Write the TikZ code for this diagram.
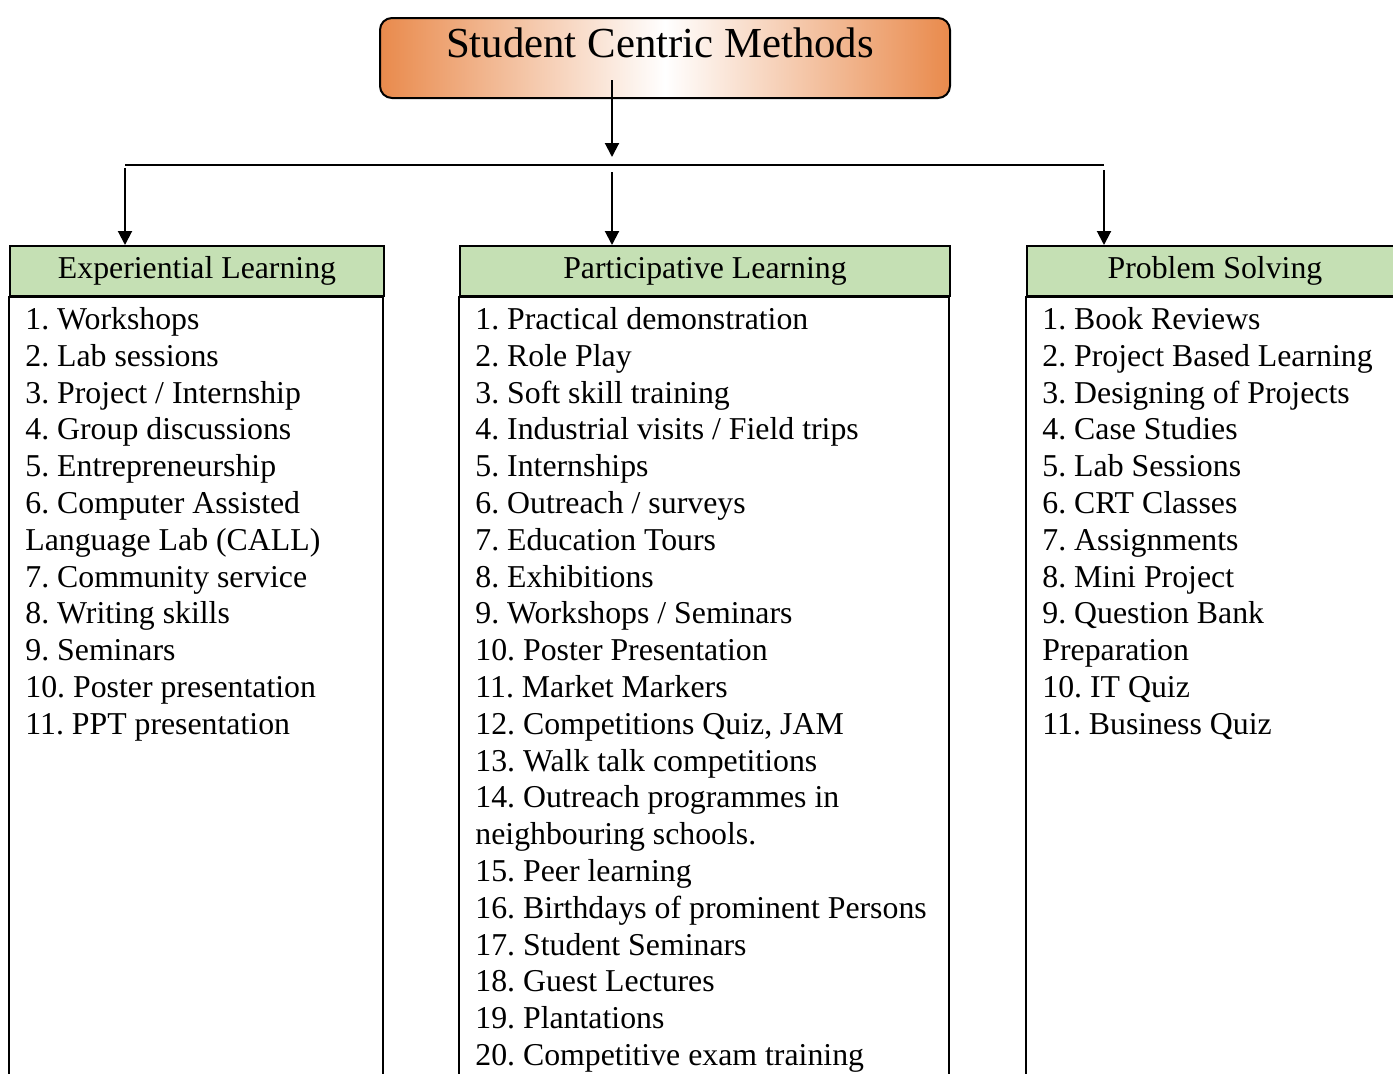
\documentclass[tikz,border=0pt]{standalone}
\usepackage{fontspec}
\setmainfont{Liberation Serif}
\usetikzlibrary{arrows.meta}
\definecolor{scorange}{HTML}{E98A4C}
\definecolor{hdgreen}{HTML}{C5E0B4}
\frenchspacing

\begin{document}
\begin{tikzpicture}[x=0.5pt, y=-0.5pt,
    arr/.style={line width=1pt, -{Triangle[length=7pt, width=7pt]}},
    titlebox/.style={draw, line width=1pt, rounded corners=6pt, inner sep=0pt,
      minimum width=285pt, text height=19.5pt, text depth=20.5pt,
      left color=scorange, right color=scorange, middle color=white,
      font=\fontsize{21.4}{25}\selectfont},
    head/.style={draw, line width=1pt, fill=hdgreen, inner sep=0pt,
      minimum height=25pt, font=\fontsize{15.9}{18}\selectfont},
    items/.style={anchor=north west, align=left, inner sep=0pt,
      font=\fontsize{15.9}{18.4}\selectfont}
  ]
    \useasboundingbox (0,0) rectangle (1393,1073);
    \clip (0,0) rectangle (1393,1073);

    \node[titlebox] (scm) at (665,58) {Student Centric Methods\hspace*{5pt}};

    \node[head, minimum width=187pt] (exp) at (197,271) {Experiential Learning};
    \node[head, minimum width=245pt] (par) at (705,271) {Participative Learning};
    \node[head, minimum width=188pt] (prb) at (1215,271) {Problem Solving};

    \draw[line width=1pt] (exp.south west) rectangle ++(374,820);
    \draw[line width=1pt] (par.south west) rectangle ++(490,820);
    \draw[line width=1pt] (prb.south west) rectangle ++(376,820);

    \coordinate (src) at (612,80);
    \coordinate (hub) at (612,157);
    \coordinate (bl) at (125,165);
    \coordinate (br) at (1104,165);
    \draw[arr] (src) -- (hub);
    \draw[line width=1pt] (bl) -- (br);
    \draw[arr] ([yshift=-1.5pt]bl) -- (bl |- exp.north);
    \draw[arr] ([yshift=-3.5pt]bl -| hub) -- (hub |- par.north);
    \draw[arr] ([yshift=-2.5pt]br) -- (br |- prb.north);

    \node[items] (expl) at (25,307) {1. Workshops\\2. Lab sessions\\3. Project / Internship\\
      4. Group discussions\\5. Entrepreneurship\\6. Computer Assisted\\
      Language Lab (CALL)\\7. Community service\\8. Writing skills\\9. Seminars\\
      10. Poster presentation\\11. PPT presentation};
    \node[items] (parl) at (475,307) {1. Practical demonstration\\2. Role Play\\
      3. Soft skill training\\4. Industrial visits / Field trips\\5. Internships\\
      6. Outreach / surveys\\7. Education Tours\\8. Exhibitions\\
      9. Workshops / Seminars\\10. Poster Presentation\\11. Market Markers\\
      12. Competitions Quiz, JAM\\13. Walk talk competitions\\
      14. Outreach programmes in\\neighbouring schools.\\15. Peer learning\\
      16. Birthdays of prominent Persons\\17. Student Seminars\\
      18. Guest Lectures\\19. Plantations\\20. Competitive exam training};
    \node[items] (prbl) at (1042,307) {1. Book Reviews\\2. Project Based Learning\\
      3. Designing of Projects\\4. Case Studies\\5. Lab Sessions\\6. CRT Classes\\
      7. Assignments\\8. Mini Project\\9. Question Bank\\Preparation\\
      10. IT Quiz\\11. Business Quiz};
\end{tikzpicture}
\end{document}
